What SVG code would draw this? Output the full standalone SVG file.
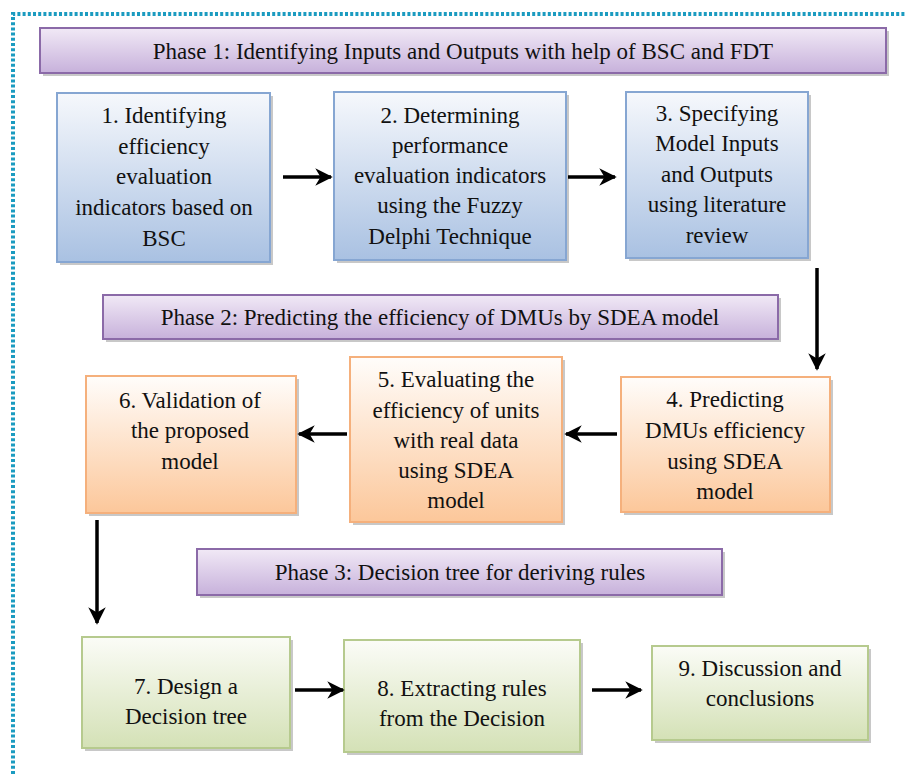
<svg xmlns="http://www.w3.org/2000/svg" width="905" height="774" viewBox="0 0 905 774">
<defs>
<linearGradient id="gPhase" x1="0" y1="0" x2="0" y2="1"><stop offset="0" stop-color="#f1e9f6"/><stop offset="1" stop-color="#c7b1db"/></linearGradient>
<linearGradient id="gBlue" x1="0" y1="0" x2="0" y2="1"><stop offset="0" stop-color="#f6f8fc"/><stop offset="1" stop-color="#a9c1e2"/></linearGradient>
<linearGradient id="gOrange" x1="0" y1="0" x2="0" y2="1"><stop offset="0" stop-color="#fffdfb"/><stop offset="1" stop-color="#fcc79a"/></linearGradient>
<linearGradient id="gGreen" x1="0" y1="0" x2="0" y2="1"><stop offset="0" stop-color="#fbfcf7"/><stop offset="1" stop-color="#d4e1b6"/></linearGradient>
<marker id="ah" viewBox="0 0 10 10" refX="9" refY="5" markerWidth="5" markerHeight="5" orient="auto" markerUnits="strokeWidth"><path d="M0,0 L10,5 L0,10 L3,5 Z" fill="#000"/></marker>
</defs>
<rect width="905" height="774" fill="#fff"/>
<path d="M13,774 L13,14 L905,14" fill="none" stroke="#1b9bc0" stroke-width="4" stroke-dasharray="3 2.2"/>

<g font-family="Liberation Serif" font-size="23" fill="#111" text-anchor="middle">
<g id="phase1"><rect fill="#9a9a9a" opacity="0.55" x="43" y="31" width="846" height="45"/><rect fill="url(#gPhase)" stroke="#8b6aa8" stroke-width="2" x="40" y="28" width="846" height="45"/><text x="463" y="59">Phase 1: Identifying Inputs and Outputs with help of BSC and FDT</text></g>
<g id="phase2"><rect fill="#9a9a9a" opacity="0.55" x="106" y="298" width="675" height="44"/><rect fill="url(#gPhase)" stroke="#8b6aa8" stroke-width="2" x="103" y="295" width="675" height="44"/><text x="440" y="325">Phase 2: Predicting the efficiency of DMUs by SDEA model</text></g>
<g id="phase3"><rect fill="#9a9a9a" opacity="0.55" x="200" y="552" width="525" height="46"/><rect fill="url(#gPhase)" stroke="#8b6aa8" stroke-width="2" x="197" y="549" width="525" height="46"/><text x="460" y="580">Phase 3: Decision tree for deriving rules</text></g>

<g id="n1"><rect fill="#9a9a9a" opacity="0.55" x="60" y="96" width="213" height="169"/><rect fill="url(#gBlue)" stroke="#86a6d2" stroke-width="2" x="57" y="93" width="213" height="169"/>
<text x="164" y="123">1. Identifying</text><text x="164" y="154">efficiency</text><text x="164" y="184">evaluation</text><text x="164" y="215">indicators based on</text><text x="164" y="246">BSC</text></g>
<g id="n2"><rect fill="#9a9a9a" opacity="0.55" x="337" y="95" width="232" height="168"/><rect fill="url(#gBlue)" stroke="#86a6d2" stroke-width="2" x="334" y="92" width="232" height="168"/>
<text x="450" y="123">2. Determining</text><text x="450" y="153">performance</text><text x="450" y="183">evaluation indicators</text><text x="450" y="213">using the Fuzzy</text><text x="450" y="244">Delphi Technique</text></g>
<g id="n3"><rect fill="#9a9a9a" opacity="0.55" x="629" y="95" width="182" height="166"/><rect fill="url(#gBlue)" stroke="#86a6d2" stroke-width="2" x="626" y="92" width="182" height="166"/>
<text x="717" y="121">3. Specifying</text><text x="717" y="151">Model Inputs</text><text x="717" y="182">and Outputs</text><text x="717" y="212">using literature</text><text x="717" y="243">review</text></g>

<g id="n4"><rect fill="#9a9a9a" opacity="0.55" x="624" y="380" width="209" height="135"/><rect fill="url(#gOrange)" stroke="#f5b07c" stroke-width="2" x="621" y="377" width="209" height="135"/>
<text x="725" y="407">4. Predicting</text><text x="725" y="438">DMUs efficiency</text><text x="725" y="469">using SDEA</text><text x="725" y="499">model</text></g>
<g id="n5"><rect fill="#9a9a9a" opacity="0.55" x="353" y="360" width="212" height="165"/><rect fill="url(#gOrange)" stroke="#f5b07c" stroke-width="2" x="350" y="357" width="212" height="165"/>
<text x="456" y="387">5. Evaluating the</text><text x="456" y="418">efficiency of units</text><text x="456" y="448">with real data</text><text x="456" y="478">using SDEA</text><text x="456" y="508">model</text></g>
<g id="n6"><rect fill="#9a9a9a" opacity="0.55" x="89" y="379" width="210" height="137"/><rect fill="url(#gOrange)" stroke="#f5b07c" stroke-width="2" x="86" y="376" width="210" height="137"/>
<text x="190" y="408">6. Validation of</text><text x="190" y="438">the proposed</text><text x="190" y="469">model</text></g>

<g id="n7"><rect fill="#9a9a9a" opacity="0.55" x="85" y="640" width="208" height="111"/><rect fill="url(#gGreen)" stroke="#b6ca8e" stroke-width="2" x="82" y="637" width="208" height="111"/>
<text x="186" y="694">7. Design a</text><text x="186" y="724">Decision tree</text></g>
<g id="n8"><rect fill="#9a9a9a" opacity="0.55" x="347" y="643" width="236" height="112"/><rect fill="url(#gGreen)" stroke="#b6ca8e" stroke-width="2" x="344" y="640" width="236" height="112"/>
<text x="462" y="696">8. Extracting rules</text><text x="462" y="726">from the Decision</text></g>
<g id="n9"><rect fill="#9a9a9a" opacity="0.55" x="655" y="649" width="216" height="94"/><rect fill="url(#gGreen)" stroke="#b6ca8e" stroke-width="2" x="652" y="646" width="216" height="94"/>
<text x="760" y="676">9. Discussion and</text><text x="760" y="706">conclusions</text></g>
</g>

<g id="connectors" stroke="#000" stroke-width="3.5" marker-end="url(#ah)">
<line x1="283" y1="177" x2="331" y2="177"/>
<line x1="568" y1="177" x2="615" y2="177"/>
<line x1="817" y1="268" x2="817" y2="369"/>
<line x1="617" y1="434" x2="566" y2="434"/>
<line x1="347" y1="434" x2="299" y2="434"/>
<line x1="97" y1="520" x2="97" y2="623"/>
<line x1="295" y1="690" x2="343" y2="690"/>
<line x1="592" y1="690" x2="641" y2="690"/>
</g>
</svg>
